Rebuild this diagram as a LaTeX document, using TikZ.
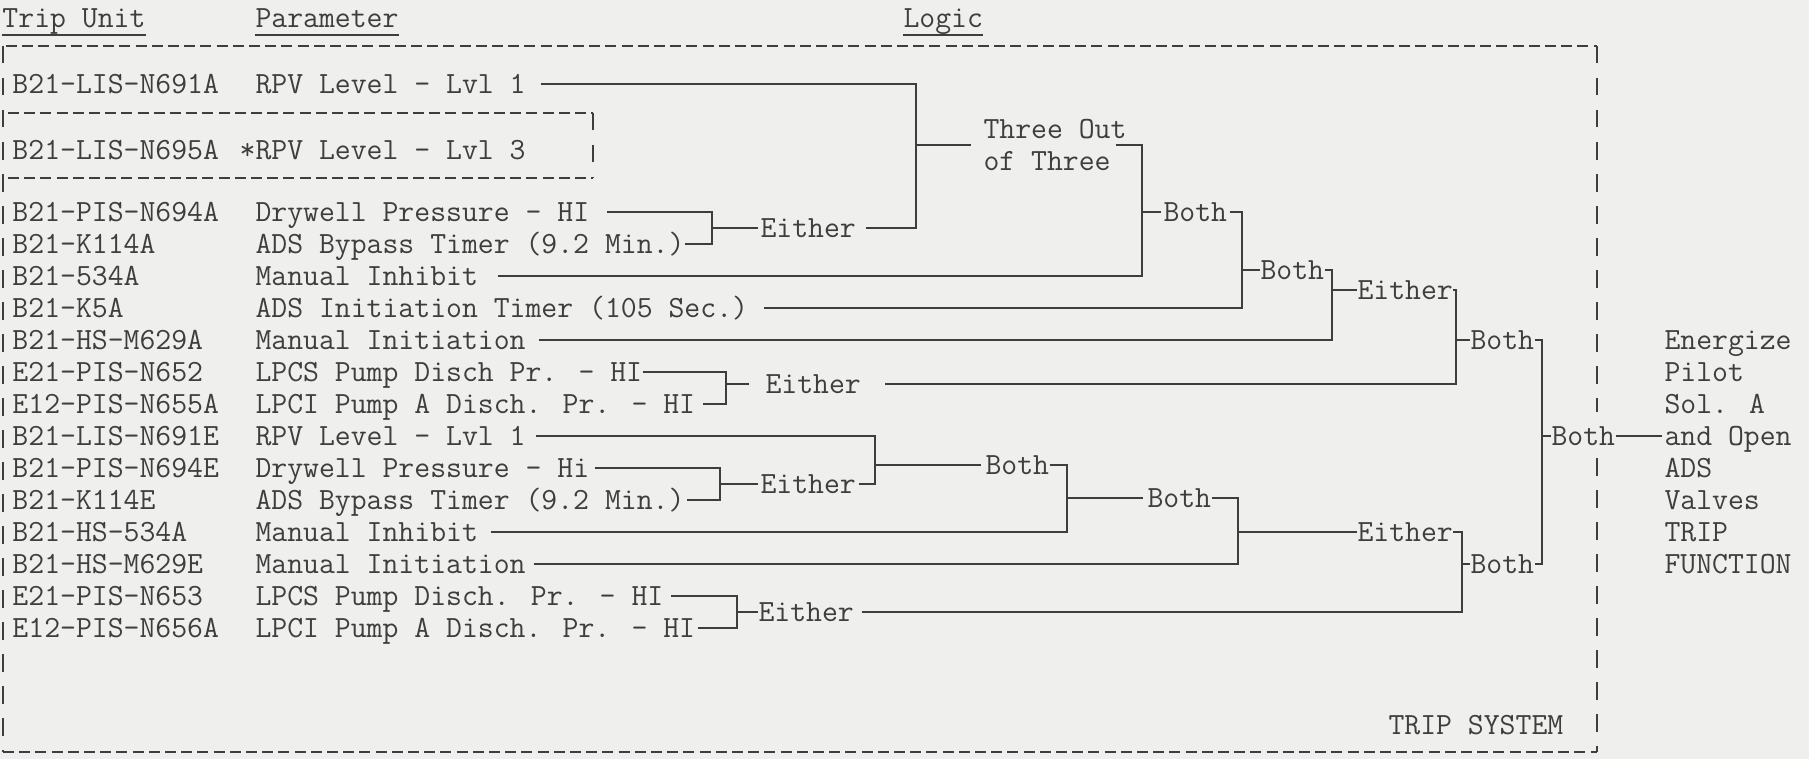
\documentclass[tikz,border=0pt]{standalone}
\usepackage{fontspec}
\usetikzlibrary{positioning,calc}
\definecolor{PaperGray}{RGB}{239,239,237}
\definecolor{InkGray}{RGB}{62,62,62}

\begin{document}
\begin{tikzpicture}[x=0.4pt, y=-0.4pt, font=\fontsize{12.34pt}{12.8pt}\selectfont\ttfamily, every node/.style={text=InkGray}]
\tikzset{
  txt/.style={inner sep=0pt, anchor=west, text height=7.6pt, text depth=0pt},
  hdr/.style={inner sep=0pt, anchor=base west, text depth=2.6pt},
  gate/.style={txt},
  ln/.style={draw=InkGray, line width=0.8pt},
  hdash/.style={ln, dash pattern=on 4.4pt off 2.08pt},
  vdash/.style={ln, line width=1pt, dash pattern=on 7pt off 5.8pt}
}
\useasboundingbox (0,0) rectangle (1809,759);
\fill[PaperGray] (0,0) rectangle (1809,759);

% column heads
\node[hdr] (hTrip) at (2,28) {Trip Unit};
\node[hdr] (hPar) at (255,28) {Parameter};
\node[hdr] (hLogic) at (903,28) {Logic};
\foreach \h in {hTrip,hPar,hLogic}
  \draw[ln] (\h.south west) -- (\h.south east);

% trip system boundary
\draw[hdash] (6,46) -- (1597,46);
\draw[vdash] (3,46) -- (3,752);
\draw[vdash] (1597,46) -- (1597,412);
\draw[vdash] (1597,458) -- (1597,752);
\draw[hdash] (3,752) -- (1597,752);
\draw[hdash] (8,113) -- (593,113);
\draw[vdash] (593,113) -- (593,178);
\draw[hdash] (8,178) -- (593,178);

% trip units and parameters
\foreach \y/\u/\p [count=\i] in {
   84/B21-LIS-N691A/RPV Level - Lvl 1,
  150/B21-LIS-N695A/\llap{*}RPV Level - Lvl 3,
  212/B21-PIS-N694A/Drywell Pressure - HI,
  244/B21-K114A/ADS Bypass Timer (9.2 Min.),
  276/B21-534A/Manual Inhibit,
  308/B21-K5A/ADS Initiation Timer (105 Sec.),
  340/B21-HS-M629A/Manual Initiation,
  372/E21-PIS-N652/LPCS Pump Disch Pr. - HI,
  404/E12-PIS-N655A/LPCI Pump A Disch. Pr. - HI,
  436/B21-LIS-N691E/RPV Level - Lvl 1,
  468/B21-PIS-N694E/Drywell Pressure - Hi,
  500/B21-K114E/ADS Bypass Timer (9.2 Min.),
  532/B21-HS-534A/Manual Inhibit,
  564/B21-HS-M629E/Manual Initiation,
  596/E21-PIS-N653/LPCS Pump Disch. Pr. - HI,
  628/E12-PIS-N656A/LPCI Pump A Disch. Pr. - HI}
{
  \node[txt] (u\i) at (12,\y) {\u};
  \node[txt] (p\i) at (255,\y) {\p};
}

% logic
\node[gate] (eA) at (760,228) {Either};
\node[inner sep=0pt, anchor=west, align=left] (t3) at (983,145) {Three Out\\of Three};
\node[gate] (bA) at (1163,212) {Both};
\node[gate] (bB) at (1260,270) {Both};
\node[gate] (eC) at (1357,290) {Either};
\node[gate] (eB) at (765,384) {Either};
\node[gate] (bC) at (1470,340) {Both};
\node[gate] (eD) at (760,484) {Either};
\node[gate] (bD) at (985,465) {Both};
\node[gate] (bE) at (1147,498) {Both};
\node[gate] (eE) at (1357,532) {Either};
\node[gate] (eF) at (758,612) {Either};
\node[gate] (bF) at (1470,564) {Both};
\node[gate] (bG) at (1551,436) {Both};
\foreach \w [count=\i] in {Energize,Pilot,Sol. A,and Open,ADS,Valves,TRIP,FUNCTION}
  \node[txt] (o\i) at (1664,{308+32*\i}) {\w};
\node[txt] (sys) at (1388,725) {TRIP SYSTEM};

% bracket columns
\coordinate (xA) at (916,0);
\coordinate (xB) at (712,0);
\coordinate (xC) at (1142,0);
\coordinate (xD) at (1242,0);
\coordinate (xE) at (1332,0);
\coordinate (xF) at (1456,0);
\coordinate (xG) at (1542,0);
\coordinate (xH) at (726,0);
\coordinate (xI) at (875,0);
\coordinate (xJ) at (720,0);
\coordinate (xK) at (1067,0);
\coordinate (xL) at (1238,0);
\coordinate (xM) at (1462,0);
\coordinate (xN) at (737,0);

\draw[ln] ([xshift=6pt]p1.east) -- (p1.east -| xA) -- (eA.east -| xA) -- ([xshift=4pt]eA.east);
\draw[ln] ([xshift=7pt]p3.east) -- (p3.east -| xB) -- (p4.east -| xB) -- (p4.east);
\draw[ln] (eA.west -| xB) -- ([xshift=-1pt]eA.west);
\draw[ln] (t3.west -| xA) -- ([xshift=-5pt]t3.west);
\draw[ln] ([xshift=-4.5pt]t3.east) -- (t3.east -| xC) -- (p5.east -| xC) -- ([xshift=8pt]p5.east);
\draw[ln] (bA.west -| xC) -- ([xshift=-1pt]bA.west);
\draw[ln] ([xshift=1pt]bA.east) -- (bA.east -| xD) -- (p6.east -| xD) -- ([xshift=6pt]p6.east);
\draw[ln] (bB.west -| xD) -- (bB.west);
\draw[ln] (bB.east) -- (bB.east -| xE) -- (p7.east -| xE) -- ([xshift=5pt]p7.east);
\draw[ln] (eC.west -| xE) -- (eC.west);
\draw[ln] (eC.east) -- (eC.east -| xF) -- (eB.east -| xF) -- ([xshift=9.6pt]eB.east);
\draw[ln] (p8.east) -- (p8.east -| xH) -- (p9.east -| xH) -- ([xshift=3pt]p9.east);
\draw[ln] (eB.west -| xH) -- ([xshift=-6.4pt]eB.west);
\draw[ln] (bC.west -| xF) -- (bC.west);
\draw[ln] (bC.east) -- (bC.east -| xG) -- (bF.east -| xG) -- (bF.east);
\draw[ln] (bG.west -| xG) -- (bG.west);
\draw[ln] (bG.east) -- ([xshift=-1pt]o4.west);

\draw[ln] ([xshift=4pt]p10.east) -- (p10.east -| xI) -- (eD.east -| xI) -- ([xshift=1pt]eD.east);
\draw[ln] ([xshift=2pt]p11.east) -- (p11.east -| xJ) -- (p12.east -| xJ) -- ([xshift=1pt]p12.east);
\draw[ln] (eD.west -| xJ) -- ([xshift=-1pt]eD.west);
\draw[ln] (bD.west -| xI) -- ([xshift=-1.5pt]bD.west);
\draw[ln] (bD.east) -- (bD.east -| xK) -- (p13.east -| xK) -- ([xshift=5pt]p13.east);
\draw[ln] (bE.west -| xK) -- ([xshift=-1.5pt]bE.west);
\draw[ln] (bE.east) -- (bE.east -| xL) -- (p14.east -| xL) -- ([xshift=3pt]p14.east);
\draw[ln] (eE.west -| xL) -- (eE.west);
\draw[ln] (eE.east) -- (eE.east -| xM) -- (eF.east -| xM) -- ([xshift=3pt]eF.east);
\draw[ln] ([xshift=3pt]p15.east) -- (p15.east -| xN) -- (p16.east -| xN) -- ([xshift=1pt]p16.east);
\draw[ln] (eF.west -| xN) -- (eF.west);
\draw[ln] (bF.west -| xM) -- (bF.west);
\end{tikzpicture}
\end{document}
